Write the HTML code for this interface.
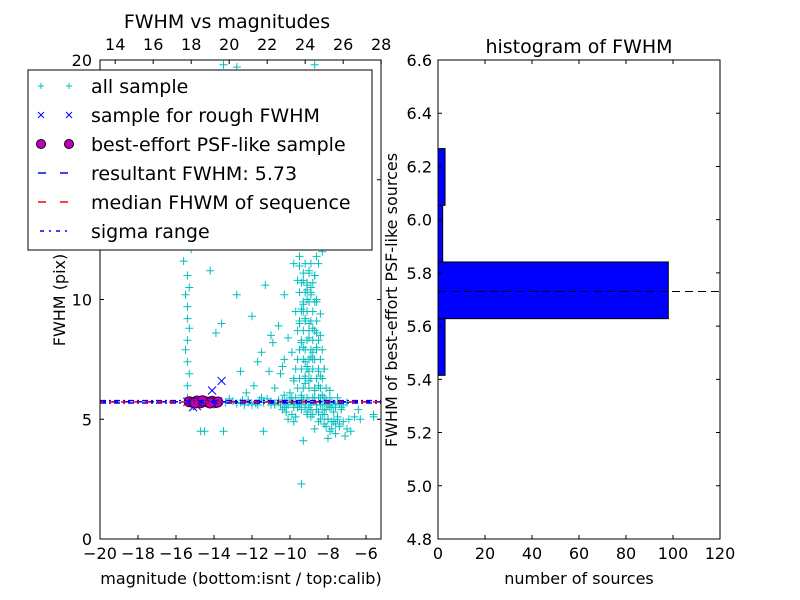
<!DOCTYPE html>
<html><head><meta charset="utf-8">
<style>
html,body{margin:0;padding:0;background:#fff;}
svg{display:block;font-family:"DejaVu Sans","Liberation Sans",sans-serif;}
</style></head>
<body>
<svg id="chart" width="800" height="600" viewBox="0 0 800 600" xmlns="http://www.w3.org/2000/svg">
<rect width="800" height="600" fill="#fff"/>
<g id="left"></g>
<g id="right"></g>
</svg>
<script>
// ---------- data: left scatter ----------
const allX = [-15.4,-15.4,-15.3,-15.4,-15.5,-15.4,-15.3,-15.4,-15.4,-15.5,-15.3,-15.4,-15.6,-15.2,-15.4,
 -15.0,-14.6,-14.2,-13.8,-13.4,-13.0,-12.6,-12.2,-11.8,-11.4,-11.0,-10.6,-10.2,-9.8,-9.4,-9.0,-8.6,-8.2,-7.8,-7.4,-7.0,
 -14.8,-14.0,-13.2,-12.4,-11.6,-10.8,-10.0,-9.2,-8.4,-7.6,-6.4,-5.6,
 -12.3,-11.9,-12.6,-11.5,-11.0,-12.0,-13.6,-13.9,-12.8,-11.3,-10.9,-11.7,-10.5,-10.3,-14.5,-14.2,
 -9.6,-9.4,-9.2,-9.0,-8.8,-8.6,-8.4,-9.5,-9.3,-9.1,-8.9,-8.7,-8.5,-8.3,-9.7,-9.2,-8.8,-9.0,-8.6,-9.4,
 -9.1,-8.9,-9.3,-8.7,-9.0,-8.5,-9.2,-8.8,-9.4,-8.6,-9.0,-8.4,-9.3,-8.9,-9.1,-8.7,-9.5,-8.6,-9.2,-8.8,
 -9.0,-9.3,-8.9,-9.1,-8.7,-9.4,-9.0,-8.8,-9.2,-9.1,-8.9,-9.3,-9.0,-8.8,-9.2,-9.4,-8.6,-9.1,-9.3,-9.0,
 -8.2,-8.0,-7.8,-7.6,-7.4,-8.1,-7.9,-7.7,-8.3,-8.5,-7.5,-7.2,-7.0,-6.8,-8.4,-7.3,-6.9,-7.9,-8.2,-7.1,
 -10.2,-10.0,-9.8,-10.4,-9.9,-10.1,-10.6,-9.7,-10.3,-9.6,-10.8,-11.1,-9.8,-10.0,
 -9.4,-14.7,-11.4,-13.5,-6.6,-6.3,-5.6,-8.0,-9.3,-12.8,-7.9,-8.7,
 -9.5,-9.0,-8.8,-9.2,-9.4,-8.9,-9.1,-8.7,-9.3,-13.5,-9.5,-8.6,
 -9.8,-9.5,-9.2,-8.9,-8.6,-8.3,-8.0,-9.7,-9.4,-9.1,-8.8,-8.5,-8.2,-7.9,
 -9.6,-9.3,-9.0,-8.7,-8.4,-8.1,-9.8,-9.5,-9.2,-8.9,-8.6,-8.3,-9.7,-9.4,
 -9.1,-8.8,-8.5,-8.2,-9.6,-9.3,-9.0,-8.7,-8.4,-9.5,-9.2,-8.9,-8.6,-8.3,
 -9.4,-9.1,-8.8,-8.5,-9.6,-9.3,-9.0,-8.7,-9.5,-9.2,-8.9,-8.6,-9.4,-9.1,
 -8.8,-9.3,-9.0,-8.7,-9.5,-9.2,-8.9,-9.4,-9.1,-8.8,-9.3,-9.0,-9.2,-8.9,
 -10.2,-9.9,-10.4,-10.1,-9.7,-10.5,-10.0,-9.6,-10.3,-9.8,
 -12.5,-12.0,-11.5,-11.0,-10.6,-10.3,-9.9,-9.6,-9.3,-9.0,-8.7,-8.4,-8.1,-7.8,-7.5,-7.2,
 -12.8,-12.2,-11.7,-11.2,-10.8,-10.4,-10.1,-9.8,-9.4,-9.1,-8.8,-8.5,-8.2,-7.9,-7.6,-7.3,
 -8.0,-7.7,-7.4,-8.3,-8.1,-7.8,-7.5,-8.6,-8.4,-8.2,-7.9,-7.6,-8.9,-8.7,-8.5];
const allY = [5.9,6.4,6.9,7.4,7.9,8.3,8.8,9.2,9.7,10.2,10.5,11.0,11.6,12.1,12.6,
 5.7,5.75,5.7,5.65,5.7,5.75,5.7,5.7,5.65,5.7,5.75,5.7,5.7,5.65,5.8,5.7,5.6,5.75,5.7,5.65,5.7,
 5.8,5.6,5.85,5.6,5.8,5.6,5.9,5.5,5.9,5.5,5.4,5.2,
 6.1,6.4,7.0,7.8,8.5,9.3,9.0,8.6,10.2,10.6,8.2,7.4,6.9,7.5,4.5,11.2,
 5.5,6.0,6.5,7.0,7.5,8.0,8.5,9.0,9.5,10.0,10.5,11.0,11.5,12.0,12.5,13.0,13.5,14.0,14.5,15.0,
 5.2,5.4,5.8,6.2,6.6,7.0,7.4,7.8,8.2,8.6,9.0,9.4,9.8,10.2,10.6,11.0,11.4,11.8,12.2,12.6,
 15.5,16.0,16.5,17.0,17.5,18.0,18.5,19.0,6.8,7.2,7.6,8.0,8.4,8.8,9.2,9.6,10.0,10.4,10.8,11.2,
 5.2,5.0,4.9,4.8,4.7,5.4,5.6,5.3,6.0,6.4,5.1,4.9,4.6,4.5,6.8,5.5,5.0,6.2,7.1,4.3,
 5.5,6.1,6.6,7.2,7.8,8.4,8.9,9.5,10.2,10.8,6.3,7.0,11.5,12.2,
 2.3,4.5,4.5,4.5,5.1,5.0,5.1,4.2,4.1,19.7,19.2,19.8,
 13.3,13.8,14.3,14.8,15.3,15.8,16.3,16.8,17.3,19.8,11.8,9.9,
 5.6,5.6,5.6,5.6,5.6,5.6,5.6,5.9,5.9,5.9,5.9,5.9,5.9,5.9,
 6.3,6.3,6.3,6.3,6.3,6.3,6.7,6.7,6.7,6.7,6.7,6.7,7.1,7.1,
 7.1,7.1,7.1,7.1,7.5,7.5,7.5,7.5,7.5,7.9,7.9,7.9,7.9,7.9,
 8.3,8.3,8.3,8.3,8.7,8.7,8.7,8.7,9.1,9.1,9.1,9.1,9.5,9.5,
 9.5,9.9,9.9,9.9,10.3,10.3,10.3,10.7,10.7,10.7,11.1,11.1,11.5,11.5,
 5.3,5.2,5.4,5.0,5.1,5.6,5.8,5.5,6.0,4.9,
 5.8,5.6,5.9,5.6,5.8,5.5,5.9,5.6,5.8,5.5,5.9,5.6,5.8,5.5,5.9,5.6,
 5.65,5.8,5.6,5.85,5.65,5.8,5.6,5.5,5.4,5.3,5.2,5.3,5.4,5.5,5.6,5.4,
 5.0,4.9,4.8,5.2,4.7,4.6,5.0,5.4,5.0,4.8,4.5,4.4,5.1,4.6,4.9];
const roughX = [-15.4,-15.2,-15.0,-14.8,-14.6,-14.4,-14.2,-14.0,-13.8,-14.1,-13.6,-14.9,-15.1];
const roughY = [5.72,5.70,5.75,5.68,5.73,5.71,5.76,5.70,5.74,6.2,6.6,5.55,5.5];
const psfX = [-15.3,-15.1,-14.9,-14.7,-14.5,-14.3,-14.1,-13.9,-13.8,-15.0,-14.6,-14.2];
const psfY = [5.73,5.70,5.76,5.69,5.74,5.71,5.75,5.70,5.72,5.68,5.77,5.68];
const resultFWHM = 5.73;
const medianFWHM = 5.72;
const sigmaRange = [5.68, 5.78];
const leftXTicks = [-20,-18,-16,-14,-12,-10,-8,-6];
const leftTopTicks = [14,16,18,20,22,24,26,28];
const leftYTicks = [0,5,10,15,20];
// ---------- data: histogram ----------
const binEdges = [5.415,5.628,5.841,6.054,6.267];
const binCounts = [3,98,2,3];
const histXTicks = [0,20,40,60,80,100,120];
const histYTicks = [4.8,5.0,5.2,5.4,5.6,5.8,6.0,6.2,6.4,6.6];

const NS="http://www.w3.org/2000/svg";
function mk(parent,tag,attrs){const e=document.createElementNS(NS,tag);for(const k in attrs)e.setAttribute(k,attrs[k]);parent.appendChild(e);return e;}
function txt(parent,x,y,s,size,anchor,extra){const t=mk(parent,'text',Object.assign({x:x,y:y,'font-size':size,'text-anchor':anchor||'middle',fill:'#000'},extra||{}));t.textContent=s;return t;}

// ---------- left panel ----------
const L=document.getElementById('left');
const lx0=100,lx1=381,ly0=60,ly1=539;
const xMin=-20,xMax=-5.21,yMin=0,yMax=20,topOff=33.2;
const sx=v=>lx0+(v-xMin)/(xMax-xMin)*(lx1-lx0);
const sy=v=>ly1-(v-yMin)/(yMax-yMin)*(ly1-ly0);
const clip=mk(L,'clipPath',{id:'lclip'});mk(clip,'rect',{x:lx0,y:ly0,width:lx1-lx0,height:ly1-ly0});
const plot=mk(L,'g',{'clip-path':'url(#lclip)'});


const gAll=mk(plot,'g',{stroke:'#00bfbf','stroke-width':1});


for(let i=0;i<allX.length;i++){const x=sx(allX[i]),y=sy(allY[i]);
 const p=mk(gAll,'path',{d:`M${x-4} ${y}H${x+4}M${x} ${y-4}V${y+4}`});
 
 }
const gR=mk(plot,'g',{stroke:'#0000ff','stroke-width':1});


for(let i=0;i<roughX.length;i++){const x=sx(roughX[i]),y=sy(roughY[i]);
 const p=mk(gR,'path',{d:`M${x-4} ${y-4}L${x+4} ${y+4}M${x-4} ${y+4}L${x+4} ${y-4}`});
 
 }
const gP=mk(plot,'g',{fill:'#bf00bf',stroke:'#400040','stroke-width':1});


for(let i=0;i<psfX.length;i++){const c=mk(gP,'circle',{cx:sx(psfX[i]),cy:sy(psfY[i]),r:5});
 
 }
let ln=mk(plot,'line',{x1:lx0,x2:lx1,y1:sy(sigmaRange[0]),y2:sy(sigmaRange[0]),stroke:'#0000ff','stroke-width':1.5,'stroke-dasharray':'6 3 2 3'});

ln=mk(plot,'line',{x1:lx0,x2:lx1,y1:sy(sigmaRange[1]),y2:sy(sigmaRange[1]),stroke:'#0000ff','stroke-width':1.5,'stroke-dasharray':'6 3 2 3'});

ln=mk(plot,'line',{x1:lx0,x2:lx1,y1:sy(resultFWHM),y2:sy(resultFWHM),stroke:'#0000ff','stroke-width':1.5,'stroke-dasharray':'6 6'});

ln=mk(plot,'line',{x1:lx0,x2:lx1,y1:sy(medianFWHM),y2:sy(medianFWHM),stroke:'#ff0000','stroke-width':1.5,'stroke-dasharray':'6 6','stroke-dashoffset':3});

let fr=mk(L,'rect',{x:lx0,y:ly0,width:lx1-lx0,height:ly1-ly0,fill:'none',stroke:'#000','stroke-width':1});

const lt=mk(L,'g',{stroke:'#000','stroke-width':1});
leftXTicks.forEach(v=>{const x=sx(v);mk(lt,'path',{d:`M${x} ${ly1}v-4`});
 const t=txt(L,x,ly1+20,String(v).replace('-','\u2212'),16);});
leftTopTicks.forEach(v=>{const x=sx(v-topOff);mk(lt,'path',{d:`M${x} ${ly0}v4`});
 const t=txt(L,x,ly0-10,String(v),16);});
leftYTicks.forEach(v=>{const y=sy(v);mk(lt,'path',{d:`M${lx0} ${y}h4M${lx1} ${y}h-4`});
 const t=txt(L,lx0-8,y+6,String(v),16,'end');});
let t=txt(L,241,584,'magnitude (bottom:isnt / top:calib)',16);
t=txt(L,65,300,'FWHM (pix)',16,'middle',{transform:'rotate(-90 65 300)'});
t=txt(L,227,28,'FWHM vs magnitudes',19);
// legend
const lg=mk(L,'g',{});

mk(lg,'rect',{x:28,y:70,width:344,height:180,fill:'#fff',stroke:'#000','stroke-width':1});
const labels=['all sample','sample for rough FWHM','best-effort PSF-like sample','resultant FWHM: 5.73','median FHWM of sequence','sigma range'];
labels.forEach((s,i)=>{const y=86+i*29;
 const e=mk(lg,'g',{});
 [41,69].forEach(x=>{
  if(i==0)mk(e,'path',{d:`M${x-3} ${y}h6M${x} ${y-3}v6`,stroke:'#00bfbf'});
  if(i==1)mk(e,'path',{d:`M${x-3} ${y-3}l6 6M${x-3} ${y+3}l6 -6`,stroke:'#0000ff'});
  if(i==2)mk(e,'circle',{cx:x,cy:y,r:4.5,fill:'#bf00bf',stroke:'#000'});
 });
 if(i==3)mk(e,'path',{d:`M38 ${y}h8M60 ${y}h8`,stroke:'#0000ff','stroke-width':1.5});
 if(i==4)mk(e,'path',{d:`M38 ${y}h8M60 ${y}h8`,stroke:'#ff0000','stroke-width':1.5});
 if(i==5)mk(e,'path',{d:`M40 ${y}h4M49 ${y}h2M56 ${y}h4M65 ${y}h2`,stroke:'#0000ff','stroke-width':1.5});
 txt(e,91,y+7,s,19,'start');
});

// ---------- right panel ----------
const R=document.getElementById('right');
const rx0=438,rx1=720,ry0=60,ry1=539;
const hxMax=120,hyMin=4.8,hyMax=6.6;
const hx=v=>rx0+v/hxMax*(rx1-rx0);
const hy=v=>ry1-(v-hyMin)/(hyMax-hyMin)*(ry1-ry0);
for(let i=0;i<binCounts.length;i++){
 const b=mk(R,'rect',{x:hx(0),y:hy(binEdges[i+1]),width:hx(binCounts[i])-hx(0),height:hy(binEdges[i])-hy(binEdges[i+1]),fill:'#0000ff',stroke:'#000','stroke-width':1});
 }
ln=mk(R,'line',{x1:rx0,x2:rx1,y1:hy(resultFWHM),y2:hy(resultFWHM),stroke:'#000','stroke-width':1,'stroke-dasharray':'8 5'});

fr=mk(R,'rect',{x:rx0,y:ry0,width:rx1-rx0,height:ry1-ry0,fill:'none',stroke:'#000','stroke-width':1});

const rt=mk(R,'g',{stroke:'#000','stroke-width':1});
histXTicks.forEach(v=>{const x=hx(v);mk(rt,'path',{d:`M${x} ${ry1}v-4M${x} ${ry0}v4`});
 const t=txt(R,x,ry1+20,String(v),16);});
histYTicks.forEach(v=>{const y=hy(v);mk(rt,'path',{d:`M${rx0} ${y}h4M${rx1} ${y}h-4`});
 const t=txt(R,rx0-6,y+6,v.toFixed(1),16,'end');});
t=txt(R,579,584,'number of sources',16);
t=txt(R,397,300,'FWHM of best-effort PSF-like sources',16,'middle',{transform:'rotate(-90 397 300)'});
t=txt(R,579,53,'histogram of FWHM',19);
</script>
</body></html>
